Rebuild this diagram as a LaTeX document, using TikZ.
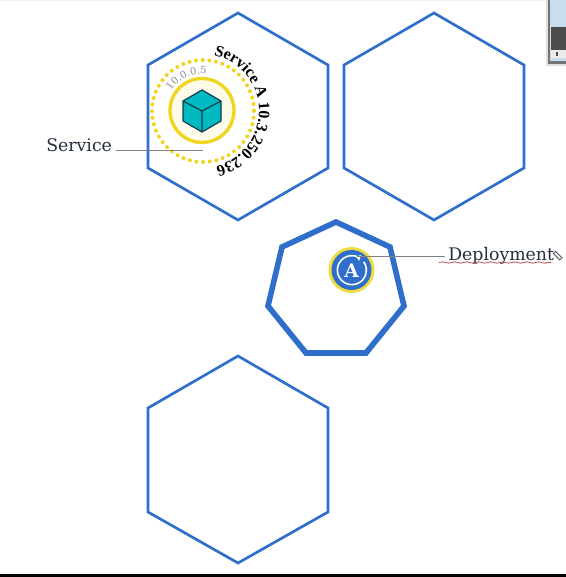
\documentclass[tikz,border=0pt]{standalone}
\usepackage{fontspec}
\setmainfont{DejaVu Serif}
\newfontfamily\arcfont{Liberation Serif}
\usetikzlibrary{decorations.text,decorations.pathmorphing}
\definecolor{hexblue}{HTML}{2F6FCB}
\definecolor{inkdark}{HTML}{26303C}
\definecolor{yel}{HTML}{EFD51E}
\definecolor{teal1}{HTML}{00BAC2}
\definecolor{deep}{HTML}{123A4A}
\definecolor{winblue}{HTML}{C9DDEE}
\tikzset{
  x=0.75pt,y=-0.75pt,
  hexa/.style={draw=hexblue,line width=2pt,line join=miter},
  hepta/.style={draw=hexblue,line width=4.2pt,line join=miter},
  label/.style={inner sep=0pt,text=inkdark,font=\fontsize{13pt}{15pt}\selectfont},
  leader/.style={draw=black!50,line width=0.7pt},
  cubeedge/.style={draw=deep,line width=0.9pt,line join=round}
}
\begin{document}
\begin{tikzpicture}
\useasboundingbox (0,0) rectangle (566,577);
\fill[white] (0,0) rectangle (566,577);
\fill[black!6] (0,0) rectangle (566,1);
% hexagons
\draw[hexa] (238,13)--(328,65)--(328,168)--(238,220)--(148,168)--(148,65)--cycle;
\draw[hexa] (434,13)--(524,65)--(524,168)--(434,220)--(344,168)--(344,65)--cycle;
\draw[hexa] (238,356)--(328,408)--(328,512)--(238,563)--(148,512)--(148,408)--cycle;
\draw[hepta] (336,222)--(390,247)--(404,306)--(366,353)--(306,353)--(268,306)--(282,247)--cycle;
% service circles
\fill[yel!10] (202,110.5) circle[radius=32];
\draw[yel,line width=2.5pt] (202,110.5) circle[radius=32];
\draw[yel,line width=3pt,line cap=round,dash pattern=on 0pt off 5pt] (203,111) circle[radius=51];
% cube
\fill[teal1] (202,90)--(221,101)--(221,121)--(202,132)--(183,121)--(183,101)--cycle;
\draw[cubeedge] (202,90)--(221,101)--(221,121)--(202,132)--(183,121)--(183,101)--cycle;
\draw[cubeedge] (183,101)--(202,111)--(221,101) (202,111)--(202,132);
% curved texts
\path[postaction={decorate,decoration={text along path,
  text={|\fontsize{12pt}{14pt}\arcfont\bfseries|Service A  10.3.250.236}}}]
  (202,111) ++(-78:57) arc[start angle=-78,end angle=120,radius=57];
\path[postaction={decorate,decoration={text along path,
  text={|\fontsize{7.5pt}{9pt}\selectfont\color{black!45}|10.0.0.5}}}]
  (202,111) ++(-147:37) arc[start angle=-147,end angle=-20,radius=37];
% deployment icon
\fill[yel!85!white] (351.5,270) circle[radius=23];
\fill[hexblue] (351.5,270) circle[radius=20];
\draw[white,line width=1.2pt] (358,257) arc[start angle=-65,end angle=-395,radius=14.5];
\fill[white] (361,255)--(356,256.5)--(359,261)--cycle;
\node[inner sep=0pt,text=white,font=\fontsize{14pt}{16pt}\selectfont\bfseries] (deployicon) at (351.5,270.5) {A};
% labels
\node[label,anchor=base west] (svc) at (46,152) {Service};
\node[label,anchor=base west] (dep) at (448,260) {Deployment};
\coordinate (svcend) at (203,150);
\coordinate (depend) at (357,256);
\draw[leader] (116,150) -- (svcend);
\draw[leader] (445,256) -- (depend);
% spelling squiggle and pencil
\draw[red!60!black!70,line width=0.6pt,decorate,decoration={snake,amplitude=0.5pt,segment length=9pt}] (439,262.5)--(551,262.5);
\draw[black!60,line width=0.7pt,rotate around={-45:(558,256)}] (553,254.5) rectangle (562,257.5);
% thumbnail
\fill[black!12] (546,0) rectangle (566,66);
\fill[black!55] (548,0) rectangle (566,64);
\fill[winblue] (549.5,0) rectangle (566,61.5);
\fill[black!70] (551,27) rectangle (566,50);
\fill[black!8] (551,50) rectangle (566,58);
\fill[black!70] (556,52) rectangle (557.5,56);
% bottom bar
\fill[black] (0,574) rectangle (566,577);
\end{tikzpicture}
\end{document}
